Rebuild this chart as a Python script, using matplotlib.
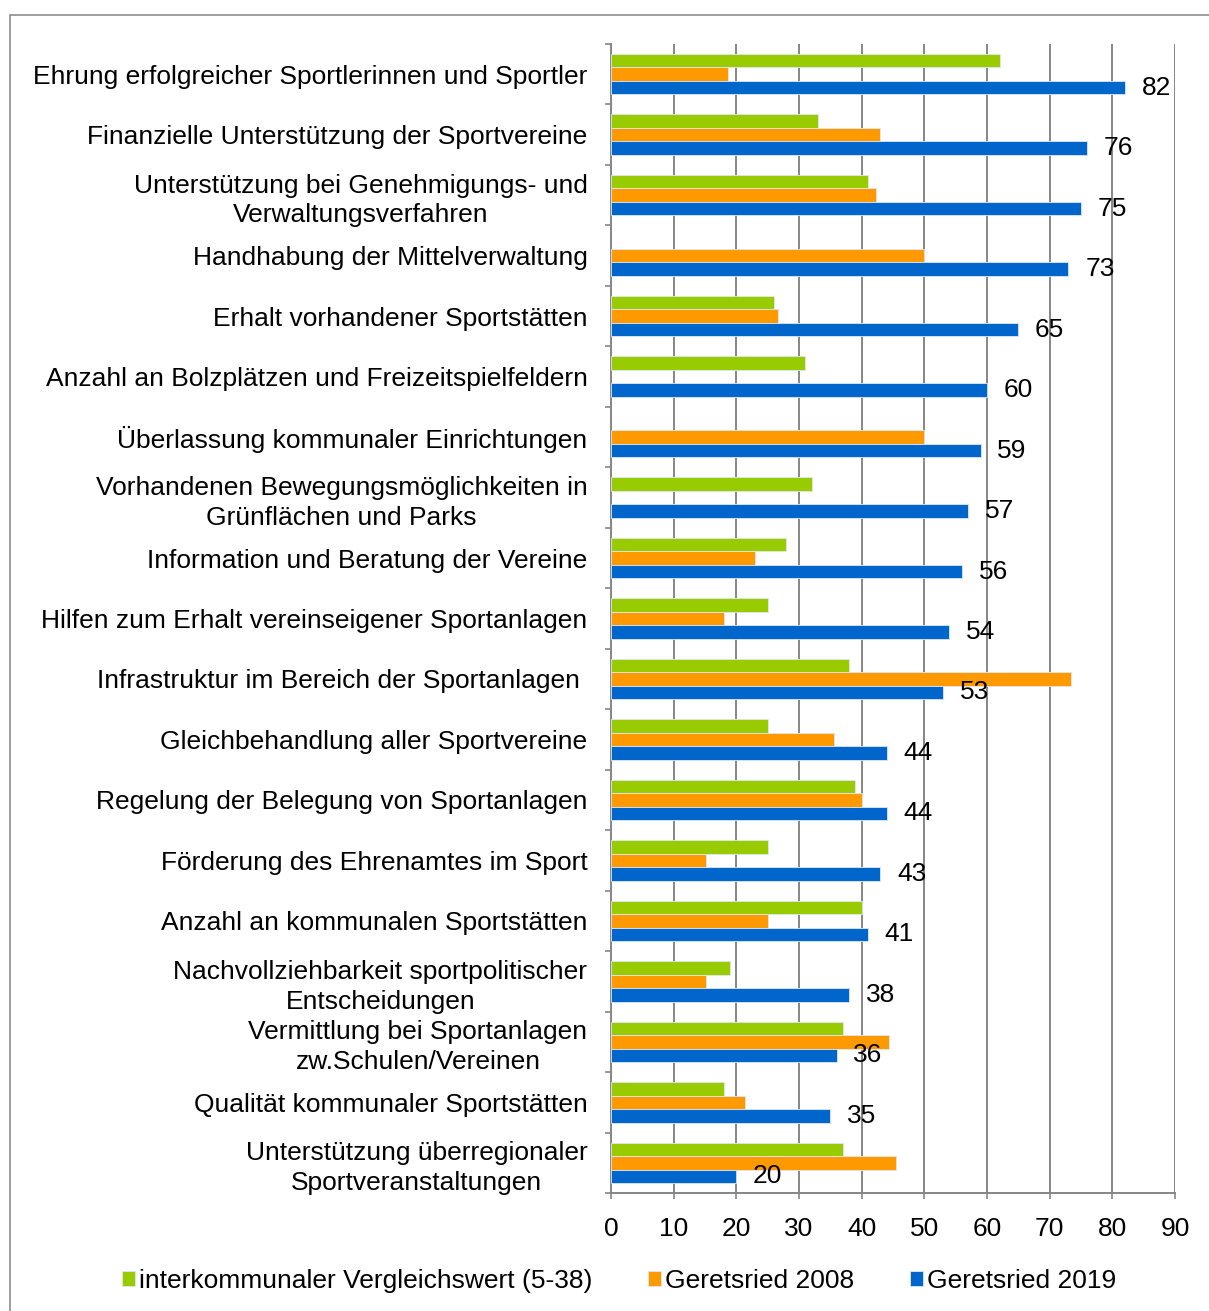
import numpy as np
import matplotlib.pyplot as plt
from matplotlib.patches import Rectangle

plt.rcParams['font.family'] = ['Liberation Sans', 'DejaVu Sans']

categories = [
    'Ehrung erfolgreicher Sportlerinnen und Sportler',
    'Finanzielle Unterstützung der Sportvereine',
    'Unterstützung bei Genehmigungs- und\nVerwaltungsverfahren',
    'Handhabung der Mittelverwaltung',
    'Erhalt vorhandener Sportstätten',
    'Anzahl an Bolzplätzen und Freizeitspielfeldern',
    'Überlassung kommunaler Einrichtungen',
    'Vorhandenen Bewegungsmöglichkeiten in\nGrünflächen und Parks',
    'Information und Beratung der Vereine',
    'Hilfen zum Erhalt vereinseigener Sportanlagen',
    'Infrastruktur im Bereich der Sportanlagen ',
    'Gleichbehandlung aller Sportvereine',
    'Regelung der Belegung von Sportanlagen',
    'Förderung des Ehrenamtes im Sport',
    'Anzahl an kommunalen Sportstätten',
    'Nachvollziehbarkeit sportpolitischer\nEntscheidungen',
    'Vermittlung bei Sportanlagen\nzw.Schulen/Vereinen',
    'Qualität kommunaler Sportstätten',
    'Unterstützung überregionaler\nSportveranstaltungen',
]

# interkommunaler Vergleichswert (nan = kein Wert)
vergleich = [62, 33, 41, np.nan, 26, 31, np.nan, 32, 28, 25, 38, 25, 39, 25, 40, 19, 37, 18, 37]
geretsried_2008 = [18.7, 43, 42.3, 50, 26.6, np.nan, 50, np.nan, 23, 18, 73.4, 35.6, 40, 15.2, 25, 15.2, 44.4, 21.4, 45.5]
geretsried_2019 = [82, 76, 75, 73, 65, 60, 59, 57, 56, 54, 53, 44, 44, 43, 41, 38, 36, 35, 20]

series_names = ['interkommunaler Vergleichswert (5-38)', 'Geretsried 2008', 'Geretsried 2019']
colors = ['#99CC00', '#FF9900', '#0066CC']

fig = plt.figure(figsize=(12.09, 13.11), dpi=100)
ax = fig.add_axes([611/1209, 1 - 1193/1311, 564/1209, 1149/1311])

y = np.arange(len(categories))
h = 0.223
for k, (vals, c, name) in enumerate(zip([vergleich, geretsried_2008, geretsried_2019], colors, series_names)):
    ax.barh(y + (k - 1) * h, vals, height=h, color=c, edgecolor='#dde8f5', linewidth=0.6, label=name, zorder=3)

for yi, v in zip(y, geretsried_2019):
    ax.annotate(str(v), (v, yi + h), xytext=(12, 0), textcoords='offset points',
                va='center', ha='left', fontsize=19, zorder=4)

ax.set_xlim(0, 90)
ax.set_ylim(len(categories) - 0.5, -0.5)
ax.set_xticks(np.arange(0, 91, 10))
ax.set_yticks(y)
ax.set_yticklabels(categories, fontsize=19, multialignment='center', linespacing=1.3)
ax.set_yticks(np.arange(-0.5, len(categories), 1), minor=True)
ax.tick_params(axis='y', which='major', length=0, pad=17)
ax.tick_params(axis='y', which='minor', length=4, color='#868686', width=1.2, direction='out')
ax.tick_params(axis='x', length=4, color='#868686', width=1.2, labelsize=19, pad=13)

ax.grid(axis='x', color='#868686', linewidth=1.4, zorder=0)
for s in ['top', 'right']:
    ax.spines[s].set_visible(False)
for s in ['left', 'bottom']:
    ax.spines[s].set_color('#868686')
    ax.spines[s].set_linewidth(1.4)

fig.legend(loc='center', bbox_to_anchor=(619/1209, 1 - 1281/1311), ncol=3, frameon=False,
           fontsize=19, handlelength=0.5, handleheight=0.5, handletextpad=0.15, columnspacing=2.1)

fig.patches.append(Rectangle((10/1209, -0.05), 1.2, 1 - 15/1311 + 0.05, transform=fig.transFigure,
                             fill=False, edgecolor='#8c8c8c', linewidth=1.2))

fig.savefig('out.png', dpi=100)
